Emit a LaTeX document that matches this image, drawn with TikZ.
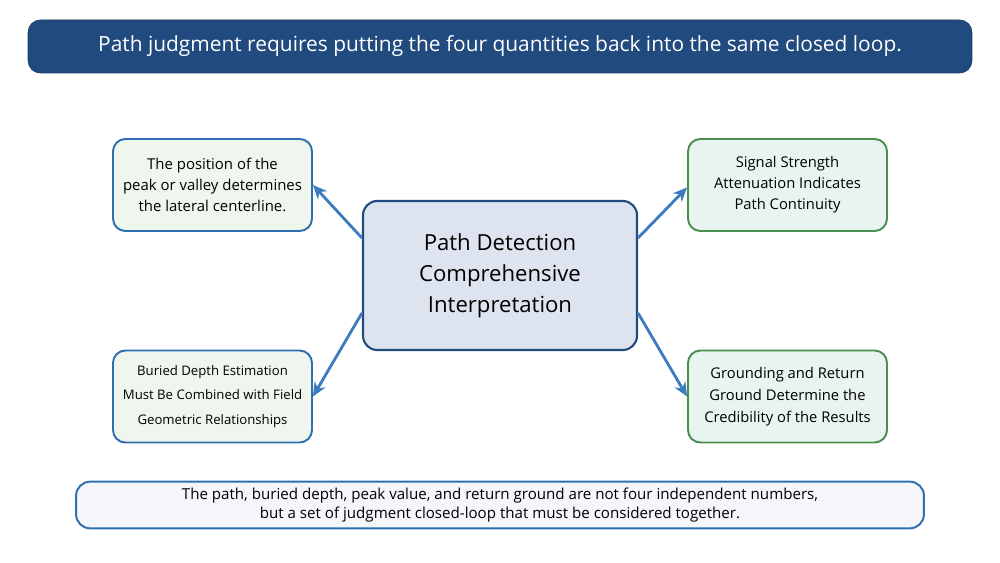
\documentclass[tikz,border=0pt]{standalone}
\usepackage{fontspec}
\setmainfont{Open Sans}
\usepackage{xcolor}
\usetikzlibrary{arrows.meta, positioning}

\definecolor{bannerblue}{HTML}{214A7E}
\definecolor{edgeblue}{HTML}{2E6FB0}
\definecolor{edgegreen}{HTML}{4A8F4E}
\definecolor{arrowblue}{HTML}{3C7BBE}
\definecolor{hubfill}{HTML}{DDE4EF}
\definecolor{leftfill}{HTML}{EEF6EE}
\definecolor{rightfill}{HTML}{E8F4F0}
\definecolor{notefill}{HTML}{F4F6FB}

\begin{document}
\begin{tikzpicture}[
    x=0.02cm, y=-0.02cm,
    banner/.style={rectangle, draw=bannerblue!80!black, fill=bannerblue, rounded corners=7pt, minimum width=18.88cm, minimum height=1.06cm, text=white, font=\fontsize{11.9}{14}\selectfont},
    hub/.style={rectangle, draw=bannerblue, line width=1.2pt, rounded corners=8pt, fill=hubfill, minimum width=5.48cm, minimum height=2.98cm, align=center, font=\fontsize{12.6}{17.6}\selectfont},
    leftbox/.style={rectangle, draw=edgeblue, line width=1.1pt, rounded corners=7pt, fill=leftfill, minimum width=3.98cm, minimum height=1.84cm, align=center},
    rightbox/.style={rectangle, draw=edgegreen, line width=1.1pt, rounded corners=7pt, fill=rightfill, minimum width=3.98cm, minimum height=1.84cm, align=center},
    note/.style={rectangle, draw=edgeblue, line width=1.1pt, rounded corners=8pt, fill=notefill, minimum width=16.96cm, minimum height=0.88cm, align=center, font=\fontsize{8.6}{11.3}\selectfont},
    arrow/.style={-{Stealth[length=8pt, width=7pt]}, line width=1.6pt, arrowblue}
]
\useasboundingbox (0,0) rectangle (1000,563);

\node[banner] (title) at (500,46.5) {Path judgment requires putting the four quantities back into the same closed loop.};
\node[hub] (hub) at (500,275.5) {Path Detection\\Comprehensive\\Interpretation};

\node[leftbox, font=\fontsize{8.5}{12}\selectfont] (peak) at (212.5,185) {The position of the\\peak or valley determines\\the lateral centerline.};
\node[rightbox, font=\fontsize{8.4}{12}\selectfont] (signal) at (787.5,185) {Signal Strength\\Attenuation Indicates\\Path Continuity};
\node[leftbox, font=\fontsize{7.5}{14}\selectfont] (depth) at (212.5,396.5) {Buried Depth Estimation\\Must Be Combined with Field\\Geometric Relationships};
\node[rightbox, font=\fontsize{8.4}{12.4}\selectfont] (ground) at (787.5,396.5) {Grounding and Return\\Ground Determine the\\Credibility of the Results};

\node[note] (summary) at (500,505) {The path, buried depth, peak value, and return ground are not four independent numbers,\\but a set of judgment closed-loop that must be considered together.};

\draw[arrow] ([yshift=0.75cm]hub.west) -- (peak.east);
\draw[arrow] ([yshift=0.75cm]hub.east) -- ([yshift=-0.05cm]signal.west);
\draw[arrow] ([yshift=-0.75cm]hub.west) -- (depth.east);
\draw[arrow] ([yshift=-0.75cm]hub.east) -- (ground.west);
\end{tikzpicture}
\end{document}
